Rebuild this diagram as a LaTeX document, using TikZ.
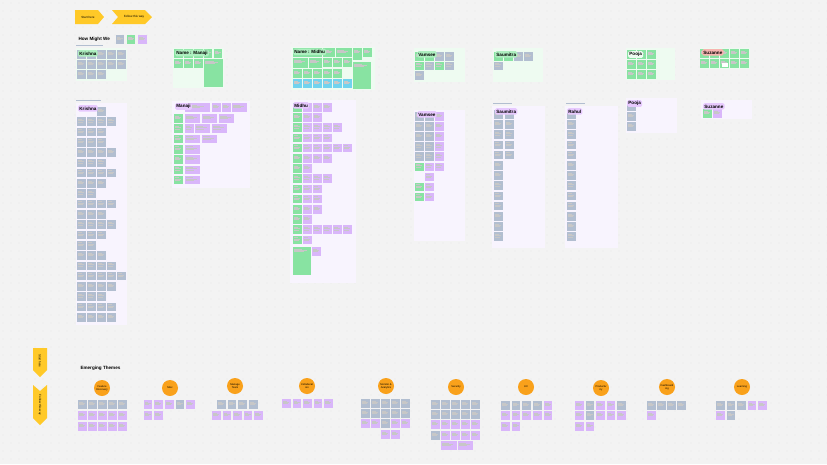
\documentclass[tikz,border=0pt]{standalone}
\usepackage{fontspec}
\setmainfont{Liberation Sans}
\usetikzlibrary{positioning}
\definecolor{bgc}{HTML}{F3F3F3}
\definecolor{dotc}{HTML}{D6D6D6}
\definecolor{gry}{HTML}{B2BED0}
\definecolor{grn}{HTML}{88E3A2}
\definecolor{prp}{HTML}{D9B6FA}
\definecolor{blu}{HTML}{70D3EE}
\definecolor{org}{HTML}{F9A11B}
\definecolor{ylw}{HTML}{FFC928}
\definecolor{pgrn}{HTML}{EEFBF1}
\definecolor{pprp}{HTML}{F8F4FE}
\definecolor{tgrn}{HTML}{AEEFC0}
\definecolor{tprp}{HTML}{E7C9FE}
\definecolor{tred}{HTML}{F7B4B0}
\tikzset{
  scrib/.style={black!22, line width=0.2},
  tagg/.style={fill=tgrn, rounded corners=1.5pt, inner sep=1.2pt, anchor=north west,
    font=\fontsize{4.6}{4.6}\selectfont\bfseries, minimum height=6.5pt},
  tagp/.style={tagg, fill=tprp},
  tagr/.style={tagg, fill=tred},
  theme/.style={circle, fill=org, minimum size=16pt, inner sep=0pt, align=center,
    font=\fontsize{2.6}{3}\selectfont},
  signtxt/.style={font=\fontsize{3}{3}\selectfont},
  head/.style={anchor=west, font=\fontsize{4.6}{5}\selectfont\bfseries},
}
% one sticky note with a few scribbled lines: colour, x, y, width, height
\newcommand{\stkw}[5]{%
  \fill[#1] ({#2},{#3}) rectangle ++(#4,#5);
  \draw[scrib] ({#2+1},{#3+1.6}) -- ++({0.45*#4},0) ({#2+1},{#3+3}) -- ++({0.7*#4},0)
    ({#2+1},{#3+4.3}) -- ++({0.55*#4},0);}
\newcommand{\stk}[3]{\stkw{#1}{#2}{#3}{8.6}{8.6}}
% one row of sticky notes: y, first x, step, colours
\newcommand{\srow}[4]{%
  \foreach \cc [count=\i from 0] in {#4}{\stk{\cc}{#2+\i*#3}{#1}}}
\begin{document}
\begin{tikzpicture}[x=1pt, y=-1pt]
\useasboundingbox (0,0) rectangle (827,464);
\fill[bgc] (0,0) rectangle (827,464);
\foreach \i in {0,...,103}{
  \foreach \j in {0,...,58}{
    \fill[dotc] (\i*8+3,\j*8+3) circle (0.35);}}

% signposts
\fill[ylw] (75,10) -- (98,10) -- (104,17) -- (98,24) -- (75,24) -- cycle;
\fill[ylw] (112,10) -- (145,10) -- (152,17) -- (145,24) -- (112,24) -- (118,17) -- cycle;
\node (start) [signtxt] at (88,17) {Start here};
\node (follow) [signtxt] at (134,17) {Follow this way};
\fill[ylw] (33,348) -- (47,348) -- (47,370) -- (40,377) -- (33,370) -- cycle;
\fill[ylw] (33,385) -- (40,391) -- (47,385) -- (47,418) -- (40,425) -- (33,418) -- cycle;
\node (startv) [signtxt, rotate=-90] at (40,361) {Start here};
\node (followv) [signtxt, rotate=-90] at (40,405) {Follow this way};

% how might we
\node (hmw) [head] at (75,39) {How Might We};
\draw[gry, line width=0.5] (hmw.south west) ++(1,0.5) -- ++(27,0);
\srow{35}{115.5}{11.3}{gry,grn,prp}

% top row panels
\fill[pgrn] (76,48) rectangle (127,81);
\srow{50}{77}{10}{gry,gry,gry,gry,gry}
\srow{60}{77}{10}{gry,gry,gry,gry,gry}
\srow{70}{77}{10}{gry,gry,gry}
\node (krishna1) [tagg] at (78,50) {Krishna};

\fill[pgrn] (173,48) rectangle (224,88);
\srow{49}{174}{10}{grn,grn,grn}
\srow{49}{203.5}{10}{grn,grn}
\srow{59}{174}{10}{grn,grn,grn}
\stkw{grn}{204}{59}{19}{28}
\node (manaji1) [tagg] at (175,49.5) {Name : Manaji};

\fill[pgrn] (291,47) rectangle (375,90);
\stkw{grn}{293}{48}{29}{9}
\stkw{grn}{323}{48}{12}{9}
\stkw{grn}{336}{48}{16}{9}
\stkw{grn}{353}{48}{9}{12}
\stkw{grn}{363}{48}{9}{9}
\stkw{grn}{293}{58}{15}{10}
\stkw{grn}{309}{58}{13}{10}
\srow{58}{323}{10}{grn,grn,grn}
\stkw{grn}{353}{62}{18}{27}
\srow{69}{293}{10}{grn,grn,grn,grn,grn}
\srow{79}{293}{10}{blu,blu,blu,blu,blu,blu}
\node (midhu1) [tagg] at (293,48.5) {Name : Midhu};

\fill[pgrn] (414,48) rectangle (465,82);
\srow{52}{415}{10}{grn,grn,gry,gry}
\srow{61.5}{415}{10}{grn,gry,grn,gry}
\srow{71}{415}{10}{gry}
\node (vamsee1) [tagg] at (417,51) {Vamsee};

\fill[pgrn] (493,48) rectangle (543,82);
\srow{52}{494}{10}{grn,grn,gry,gry}
\srow{61.5}{494}{10}{gry}
\node (saumitra1) [tagg] at (495,51) {Saumitra};

\fill[pgrn] (626,48) rectangle (675,80);
\srow{50}{627}{10}{grn,grn,grn}
\srow{60}{627}{10}{grn,grn,grn}
\srow{70}{627}{10}{grn,grn,grn}
\node (pooja1) [tagg, fill=pgrn] at (628,51) {Pooja};

\fill[pgrn] (700,48) rectangle (750,69);
\srow{49}{700}{10}{grn,grn,grn,grn,grn}
\srow{59}{700}{10}{grn,grn,grn,grn,grn}
\fill[white] (722,63) rectangle (728,67);
\node (suzanne1) [tagr] at (702,49) {Suzanne};

% second row columns
\fill[pprp] (76,103) rectangle (127,325);
\draw[gry, line width=0.6] (76,100) -- (101,100);
\srow{107}{97}{10}{gry}
\foreach \n [count=\r from 0] in {4,3,3,4,3,4,3,2,4,3,4,3,2,3,4,5,4,3,4,4}{
  \foreach \c in {1,...,\n}{
    \stk{gry}{77+(\c-1)*10}{117.3+\r*10.3}}}
\node (krishna2) [tagp] at (78,105) {Krishna};

\fill[pprp] (172,101) rectangle (250,188);
\stkw{prp}{185}{103}{25}{8.6}
\srow{103}{212}{10}{prp,prp}
\stkw{prp}{232}{103}{15}{8.6}
\foreach \k in {0,...,6}{
  \stk{grn}{174}{114+\k*10.3}}
\foreach \c in {0,1,2}{
  \stkw{prp}{185+\c*17}{114}{15}{8.6}}
\stk{prp}{185}{124.3}
\stkw{prp}{195}{124.3}{15}{8.6}
\stkw{prp}{212}{124.3}{15}{8.6}
\foreach \c in {0,1}{
  \stkw{prp}{185+\c*17}{134.6}{15}{8.6}}
\foreach \k in {3,...,6}{
  \stkw{prp}{185}{114+\k*10.3}{15}{8.6}}
\node (manaji2) [tagp] at (175,103) {Manaji};

\fill[pprp] (290,100) rectangle (356,283);
\foreach \n [count=\r from 0] in {3,2,4,3,5,3,1,3,2,2,2,1,5,1}{
  \stk{grn}{293}{103+\r*10.2}
  \foreach \c in {1,...,\n}{
    \stk{prp}{303+(\c-1)*10}{103+\r*10.2}}
}
\stkw{grn}{293}{247}{18}{28}
\stk{prp}{312}{247}
\node (midhu2) [tagp] at (293,102) {Midhu};

\fill[pprp] (414,110) rectangle (465,241);
\srow{112}{415}{10}{gry,gry,prp}
\srow{122.1}{415}{10}{gry,gry,prp}
\srow{132.2}{415}{10}{gry,gry,prp}
\srow{142.3}{415}{10}{gry,gry,prp}
\srow{152.4}{415}{10}{gry,gry,prp}
\srow{162.5}{415}{10}{grn,prp,prp}
\stk{prp}{425}{172.6}
\srow{182.7}{415}{10}{grn,prp}
\srow{192.8}{415}{10}{grn,prp}
\node (vamsee2) [tagp] at (417,111) {Vamsee};

\fill[pprp] (492,106) rectangle (545,248);
\draw[gry, line width=0.6] (493,103) -- (512,103);
\foreach \k in {0,...,12}{
  \stk{gry}{494}{110+\k*10.2}}
\foreach \k in {0,...,4}{
  \stk{gry}{505}{110+\k*10.2}}
\node (saumitra2) [tagp] at (495,108) {Saumitra};

\fill[pprp] (565,106) rectangle (618,248);
\draw[gry, line width=0.6] (566,103) -- (585,103);
\foreach \k in {0,...,12}{
  \stk{gry}{567}{110+\k*10.2}}
\node (rahul2) [tagp] at (567,108) {Rahul};

\fill[pprp] (626,98) rectangle (677,133);
\srow{102}{627}{10}{gry}
\srow{112}{627}{10}{gry}
\srow{122}{627}{10}{gry}
\node (pooja2) [tagp] at (627,100) {Pooja};

\fill[pprp] (701,100) rectangle (752,119);
\srow{109}{703}{10}{grn,prp}
\node (suzanne2) [tagp] at (703,103) {Suzanne};

% emerging themes
\node (themes) [head] at (77,368) {Emerging Themes};
\node (th1) [theme] at (102,388) {Feature\\Discovery};
\node (th2) [theme] at (170,388) {Misc};
\node (th3) [theme] at (235,386) {Manage\\Team};
\node (th4) [theme] at (307,386) {Collaborat\\ion};
\node (th5) [theme] at (386,386) {Monitor \&\\Analytics};
\node (th6) [theme] at (456,387) {Security};
\node (th7) [theme] at (526,387) {UX};
\node (th8) [theme] at (601,388) {Productiv\\ity};
\node (th9) [theme] at (667,387) {Dashboard\\ing};
\node (th10) [theme] at (742,387) {Learning};

\srow{400}{78}{10}{gry,gry,gry,gry,gry}
\srow{411}{78}{10}{prp,prp,prp,prp,prp}
\srow{422}{78}{10}{prp,prp,prp,prp,prp}

\srow{400}{143.5}{10.7}{prp,prp,prp,gry,prp}
\srow{411}{143.5}{10.7}{prp,prp}

\srow{400}{217}{10.7}{gry,gry,gry,gry}
\srow{411}{212}{10.5}{prp,prp,prp,prp,prp}

\srow{399}{282}{10.5}{prp,prp,prp,prp,prp}

\srow{399}{361}{10}{gry,gry,gry,gry,gry}
\srow{409}{361}{10}{gry,gry,gry,gry,gry}
\srow{419}{361}{10}{prp,prp,gry,prp,prp}
\srow{430}{381}{10}{prp,prp}

\srow{400}{431}{10}{gry,gry,gry,gry,gry}
\srow{410}{431}{10}{gry,gry,gry,gry,gry}
\srow{420}{431}{10}{prp,prp,prp,prp,prp}
\srow{431}{431}{10}{gry,prp,prp,prp,prp}
\stkw{prp}{441}{441}{16}{9}
\stkw{prp}{458}{441}{15}{9}

\srow{401}{501}{10.7}{gry,gry,gry,gry,prp}
\srow{411}{501}{10.7}{prp,prp,prp,prp,prp}
\srow{422}{501}{10.7}{prp,prp}

\srow{401}{575}{10.5}{prp,gry,prp,prp,gry}
\srow{411}{575}{10.5}{prp,gry,prp,prp,prp}
\srow{422}{575}{10.5}{prp,prp}

\srow{401}{647}{10}{gry,gry,gry,gry}
\srow{411}{647}{10}{prp}

\srow{401}{716}{10.5}{gry,gry,gry,prp,prp}
\srow{411}{716}{10.5}{prp,gry}
\end{tikzpicture}
\end{document}
